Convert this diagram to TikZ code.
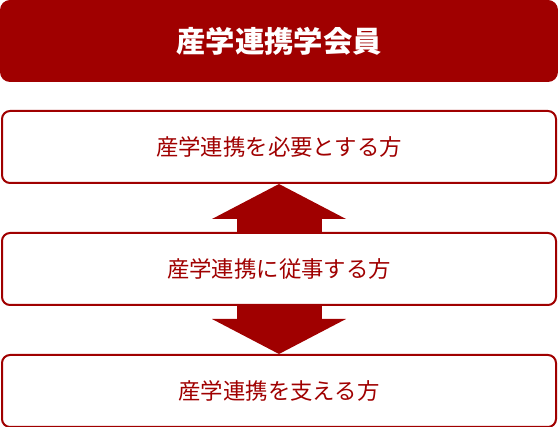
\documentclass[tikz,border=0pt]{standalone}
\usepackage{fontspec}
\newfontfamily\cjk{Noto Sans CJK JP}
\usepackage{tikz}
\usetikzlibrary{positioning,arrows.meta}
\usepackage{color}
\definecolor{sangaku}{HTML}{A00000}

\begin{document}
\begin{tikzpicture}[node distance=36pt,line width=1.5pt,
		bigarrow/.style={draw=sangaku,line width=63.75pt,
			-{Triangle[width=100.5pt,length=26.25pt,line width=0pt]}}]
		\tikzstyle{title}=[fill=sangaku,text=white,rounded corners=7.5pt,
			minimum width=418.5pt,minimum height=61.5pt,
			font=\cjk\bfseries\fontsize{22pt}{26pt}\selectfont]
		\tikzstyle{member}=[draw=sangaku,fill=white,text=sangaku,rounded corners=6pt,
			minimum width=415.5pt,minimum height=54pt,
			font=\cjk\fontsize{16.8pt}{20pt}\selectfont]
		\useasboundingbox (0,0) rectangle (418.5pt,-320.25pt);
		
		\node[title] (head) at (209.25pt,-30.75pt) {産学連携学会員};
		\node[member] (need)  [below=20.25pt of head] {産学連携を必要とする方};
		\node[member] (work)  [below=of need]         {産学連携に従事する方};
		\node[member] (supp)  [below=of work]         {産学連携を支える方};
		
		\draw[bigarrow] (work.north) -- (need.south);
		\draw[bigarrow] (work.south) -- (supp.north);
\end{tikzpicture}
\end{document}
